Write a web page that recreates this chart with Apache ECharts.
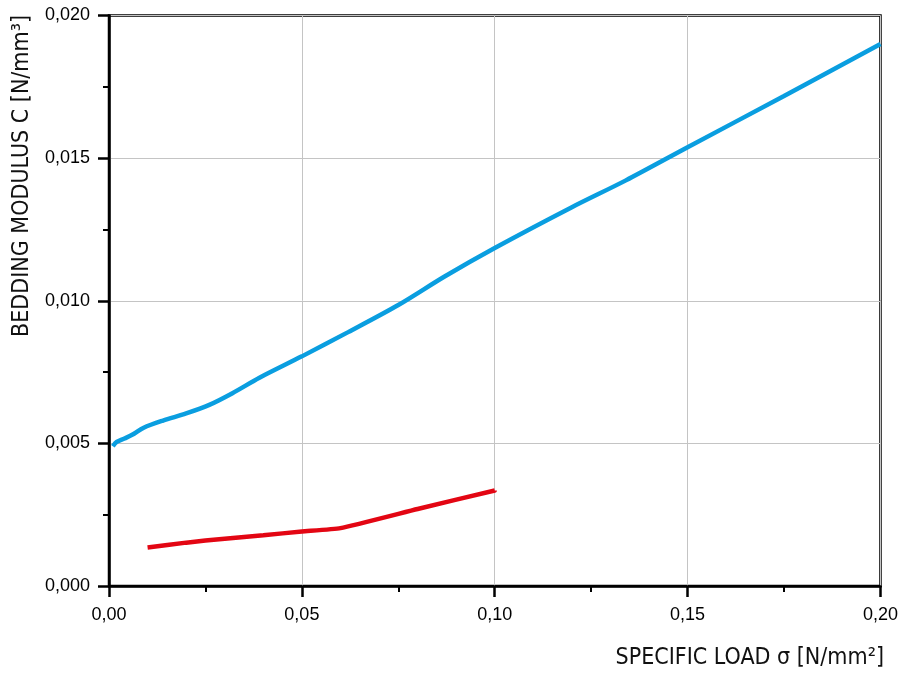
<!DOCTYPE html>
<html>
<head>
<meta charset="utf-8">
<script src="https://cdn.jsdelivr.net/npm/echarts@6/dist/echarts.min.js"></script>
<style>html,body{margin:0;padding:0;background:#fff;}#c{width:901px;height:675px;}</style>
</head>
<body>
<div id="c"></div>
<script>
var xTicks = [0, 0.05, 0.10, 0.15, 0.20];
var yTicks = [0, 0.005, 0.010, 0.015, 0.020];
var xTitle = 'SPECIFIC LOAD σ [N/mm²]';
var yTitle = 'BEDDING MODULUS C [N/mm³]';
var blueX = [0.001, 0.002, 0.004, 0.006, 0.009, 0.014, 0.020, 0.026, 0.032, 0.039, 0.050, 0.062, 0.075, 0.087, 0.100, 0.120, 0.134, 0.150, 0.175, 0.200];
var blueY = [0.0049, 0.00505, 0.00517, 0.0053, 0.00555, 0.0058, 0.00605, 0.00635, 0.00676, 0.0073, 0.00805, 0.0089, 0.00985, 0.01085, 0.01185, 0.01328, 0.01422, 0.01538, 0.01718, 0.0190];
var redX = [0.010, 0.020, 0.030, 0.040, 0.050, 0.060, 0.080, 0.100];
var redY = [0.00135, 0.00152, 0.00166, 0.00178, 0.00191, 0.00203, 0.0027, 0.00335];

function zip(a, b) { return a.map(function (v, i) { return [v, b[i]]; }); }
function fmt(d) { return function (v) { return v.toFixed(d).replace('.', ','); }; }

var chart = echarts.init(document.getElementById('c'));
var axisCommon = {
  axisLine: { show: true, onZero: false, lineStyle: { color: '#000', width: 2.5 } },
  axisTick: { show: true, inside: false, length: 11, lineStyle: { color: '#000', width: 2.5 } },
  minorTick: { show: true, splitNumber: 2, length: 6, lineStyle: { color: '#000', width: 2 } },
  splitLine: { show: true, lineStyle: { color: '#c4c4c4', width: 1 } },
  axisLabel: { color: '#000', fontFamily: 'Liberation Sans, Arial, sans-serif', fontSize: 18 }
};
chart.setOption({
  animation: false,
  backgroundColor: '#fff',
  grid: { left: 109, right: 16, top: 15.5, bottom: 89, show: true, borderColor: '#000', borderWidth: 2.5, backgroundColor: 'transparent' },
  xAxis: Object.assign({}, axisCommon, {
    type: 'value', min: xTicks[0], max: xTicks[xTicks.length - 1], interval: 0.05,
    axisLabel: Object.assign({}, axisCommon.axisLabel, { margin: 20, formatter: fmt(2) })
  }),
  yAxis: Object.assign({}, axisCommon, {
    type: 'value', min: yTicks[0], max: yTicks[yTicks.length - 1], interval: 0.005,
    axisLabel: Object.assign({}, axisCommon.axisLabel, { margin: 19, formatter: fmt(3) })
  }),
  series: [
    { type: 'line', data: zip(blueX, blueY), smooth: 0.3, showSymbol: false, lineStyle: { color: '#0a9ee0', width: 4.5 }, z: 3 },
    { type: 'line', data: zip(redX, redY), smooth: 0.15, showSymbol: false, lineStyle: { color: '#e30613', width: 4.5 }, z: 3 }
  ],
  graphic: [
    { type: 'text', x: 884, y: 658, style: { text: xTitle, fill: '#111', font: '23px "DejaVu Sans Condensed", "Liberation Sans Narrow", sans-serif', textAlign: 'right', textVerticalAlign: 'middle' } },
    { type: 'text', x: 22, y: 176, rotation: Math.PI / 2, style: { text: yTitle, fill: '#111', font: '23px "DejaVu Sans Condensed", "Liberation Sans Narrow", sans-serif', textAlign: 'center', textVerticalAlign: 'middle' } }
  ]
});
</script>
</body>
</html>
